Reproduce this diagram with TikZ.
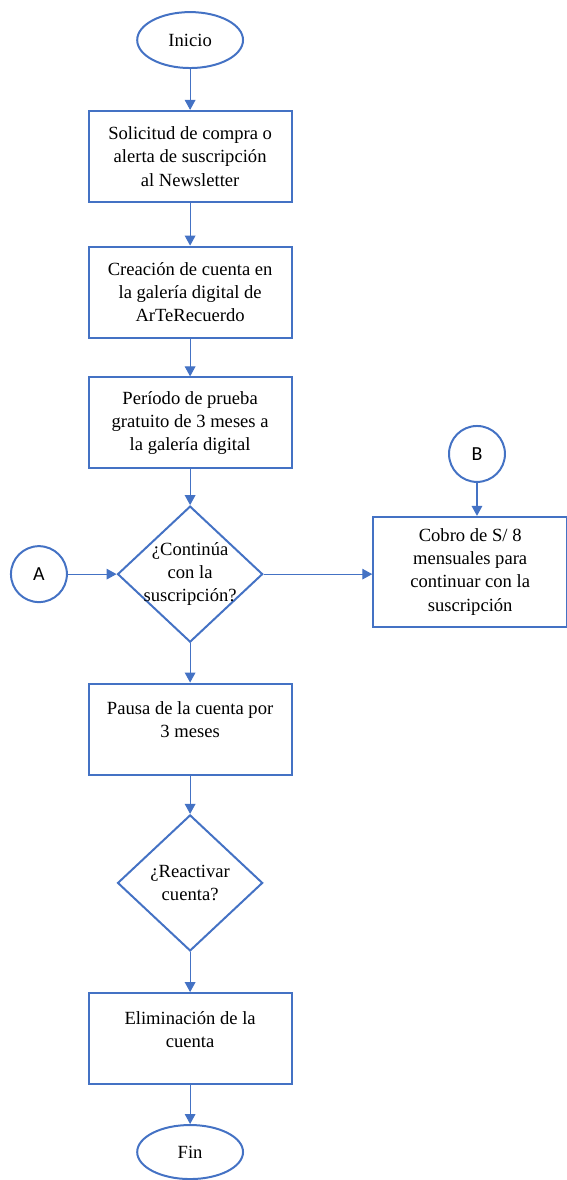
\documentclass[tikz,border=0pt]{standalone}
\usepackage{fontspec}
\setmainfont{Liberation Serif}
\newfontfamily\boxfont{Liberation Serif}
\newfontfamily\connfont{Carlito}
\usetikzlibrary{shapes.geometric, arrows.meta, positioning, calc}
\definecolor{flowblue}{HTML}{4472C4}

\begin{document}
\begin{tikzpicture}[
  box/.style={rectangle, draw=flowblue, line width=1.5pt, minimum width=5.37cm, minimum height=2.41cm, align=center, font=\boxfont\fontsize{14}{17.5}\selectfont, inner sep=2pt},
  toptext/.style={text depth=14pt},
  terminal/.style={ellipse, draw=flowblue, line width=1.5pt, minimum width=2.8cm, minimum height=1.48cm, font=\boxfont\fontsize{14}{17.5}\selectfont, inner sep=0pt},
  decision/.style={diamond, draw=flowblue, line width=1.5pt, minimum width=3.84cm, minimum height=3.6cm, inner sep=0pt},
  dtext/.style={align=center, font=\boxfont\fontsize{14}{17.5}\selectfont},
  conn/.style={circle, draw=flowblue, line width=1.5pt, minimum size=1.48cm, font=\connfont\fontsize{15}{18}\selectfont, inner sep=0pt},
  arr/.style={-{Triangle[length=7.5pt,width=8pt]}, line width=0.8pt, color=flowblue},
]
\useasboundingbox (0,0) rectangle (14.98,-31.22);

% --- main column ---
\node[terminal] (inicio) at (5.03,-1.06) {Inicio};
\node[box] (solicitud) at (5.03,-4.14) {Solicitud de compra o\\ alerta de suscripción\\ al Newsletter};
\node[box] (creacion) at (5.03,-7.73) {Creación de cuenta en\\ la galería digital de\\ ArTeRecuerdo};
\node[box] (prueba) at (5.03,-11.19) {Período de prueba\\ gratuito de 3 meses a\\ la galería digital};
\node[decision] (continua) at (5.03,-15.19) {};
\node[dtext] (continua-txt) at (continua) {¿Continúa\\ con la\\ suscripción?};
\node[box, toptext] (pausa) at (5.03,-19.29) {Pausa de la cuenta por\\ 3 meses};
\node[decision] (reactivar) at (5.03,-23.36) {};
\node[dtext] (reactivar-txt) at (reactivar) {¿Reactivar\\ cuenta?};
\node[box, toptext] (elimina) at (5.03,-27.48) {Eliminación de la\\ cuenta};
\node[terminal, minimum height=1.43cm] (fin) at (5.03,-30.48) {Fin};

% --- connectors and payment ---
\node[conn] (A) at (1.03,-15.19) {A};
\node[conn] (B) at (12.62,-12.01) {B};
\node[box, minimum width=5.13cm, minimum height=2.91cm] (cobro) at (12.44,-15.13) {Cobro de S/ 8\\ mensuales para\\ continuar con la\\ suscripción};

% --- arrows ---
\draw[arr] (inicio) -- (solicitud);
\draw[arr] (solicitud) -- (creacion);
\draw[arr] (creacion) -- (prueba);
\draw[arr] (prueba) -- (continua);
\draw[arr] (A) -- (continua.west);
\draw[arr] (continua.east) -- (continua.east -| cobro.west);
\draw[arr] (B) -- (B |- cobro.north);
\draw[arr] (continua) -- (pausa);
\draw[arr] (pausa) -- (reactivar);
\draw[arr] (reactivar) -- (elimina);
\draw[arr] (elimina) -- (fin);
\end{tikzpicture}
\end{document}
